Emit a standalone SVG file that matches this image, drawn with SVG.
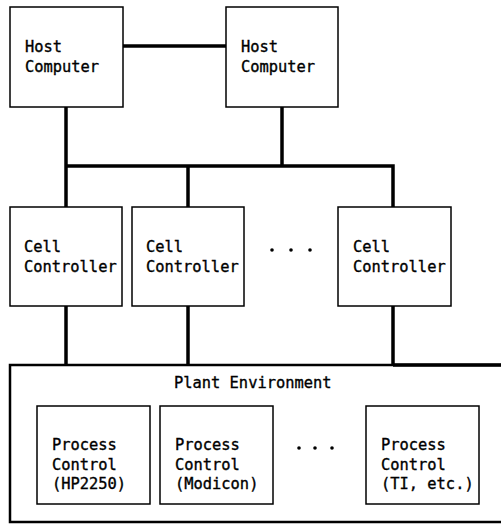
<svg xmlns="http://www.w3.org/2000/svg" width="501" height="524" viewBox="0 0 501 524">
<style>
.box{fill:#fff;stroke:#000;stroke-width:1.5}
.plant{fill:#fff;stroke:#000;stroke-width:2.5}
.wire{fill:none;stroke:#000;stroke-width:3.5}
text{font-family:"DejaVu Sans Mono","Liberation Mono",monospace;font-size:15.4px;fill:#000;stroke:#000;stroke-width:0.35}
.dot{fill:#000}
</style>
<rect width="501" height="524" fill="#fff"/>
<g id="plant">
<rect class="plant" x="10" y="365" width="505" height="157"/>
<text x="174" y="388">Plant Environment</text>
</g>
<g id="connectors">
<line class="wire" x1="123" y1="46" x2="226" y2="46"/>
<line class="wire" x1="66" y1="107" x2="66" y2="365"/>
<line class="wire" x1="282" y1="107" x2="282" y2="166"/>
<polyline class="wire" points="66,166 393,166 393,365"/>
<line class="wire" x1="188" y1="166" x2="188" y2="365"/>
<line class="wire" x1="393" y1="365" x2="501" y2="365"/>
</g>
<g id="host1">
<rect class="box" x="10" y="7" width="113" height="100"/>
<text x="25" y="52">Host</text>
<text x="25" y="72">Computer</text>
</g>
<g id="host2">
<rect class="box" x="226" y="7" width="112" height="100"/>
<text x="241" y="52">Host</text>
<text x="241" y="72">Computer</text>
</g>
<g id="cell1">
<rect class="box" x="10" y="207" width="112" height="99"/>
<text x="24" y="252">Cell</text>
<text x="24" y="272">Controller</text>
</g>
<g id="cell2">
<rect class="box" x="132" y="207" width="112" height="99"/>
<text x="146" y="252">Cell</text>
<text x="146" y="272">Controller</text>
</g>
<g id="cell-dots">
<circle class="dot" cx="272" cy="250" r="1.8"/>
<circle class="dot" cx="291" cy="250" r="1.8"/>
<circle class="dot" cx="310" cy="250" r="1.8"/>
</g>
<g id="cell3">
<rect class="box" x="338" y="207" width="113" height="99"/>
<text x="353" y="252">Cell</text>
<text x="353" y="272">Controller</text>
</g>
<g id="pc1">
<rect class="box" x="37" y="406" width="113" height="98"/>
<text x="52" y="450">Process</text>
<text x="52" y="470">Control</text>
<text x="52" y="489">(HP2250)</text>
</g>
<g id="pc2">
<rect class="box" x="160" y="406" width="113" height="98"/>
<text x="175" y="450">Process</text>
<text x="175" y="470">Control</text>
<text x="175" y="489">(Modicon)</text>
</g>
<g id="pc-dots">
<circle class="dot" cx="299" cy="448" r="1.8"/>
<circle class="dot" cx="315" cy="448" r="1.8"/>
<circle class="dot" cx="332" cy="448" r="1.8"/>
</g>
<g id="pc3">
<rect class="box" x="366" y="406" width="113" height="98"/>
<text x="381" y="450">Process</text>
<text x="381" y="470">Control</text>
<text x="381" y="489">(TI, etc.)</text>
</g>
</svg>
